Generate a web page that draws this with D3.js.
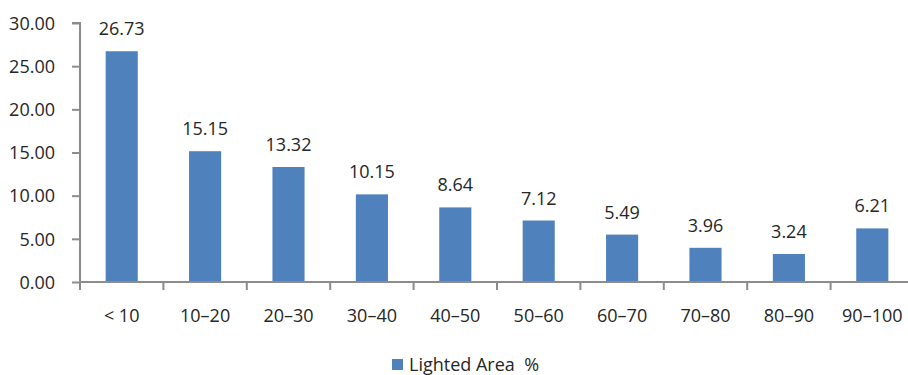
<!DOCTYPE html>
<html>
<head>
<meta charset="utf-8">
<script src="https://cdn.jsdelivr.net/npm/d3@7"></script>
<style>
  html, body { margin: 0; padding: 0; background: #fff; }
  svg { display: block; }
  text { font-family: "Open Sans", "Noto Sans", sans-serif; fill: #262626; }
</style>
</head>
<body>
<svg id="chart" width="908" height="375"></svg>
<script>
const categories = ["< 10", "10–20", "20–30", "30–40", "40–50", "50–60", "60–70", "70–80", "80–90", "90–100"];
const values = [26.73, 15.15, 13.32, 10.15, 8.64, 7.12, 5.49, 3.96, 3.24, 6.21];
const yTicks = [0, 5, 10, 15, 20, 25, 30];
const seriesName = "Lighted Area  %";

const svg = d3.select("#chart");
const plotLeft = 80, plotRight = 914, plotTop = 23, plotBottom = 282;
const barColor = "#4f81bd";
const axisColor = "#8c8c8c";
const fontSize = 18;

const x = d3.scaleBand().domain(categories).range([plotLeft, plotRight]).paddingInner(0.615).paddingOuter(0.3075);
const y = d3.scaleLinear().domain([0, 30]).range([plotBottom, plotTop]);

// bars
svg.append("g").selectAll("rect").data(values).join("rect")
  .attr("x", (d, i) => x(categories[i]))
  .attr("y", d => y(d))
  .attr("width", x.bandwidth())
  .attr("height", d => y(0) - y(d))
  .attr("fill", barColor);

// value labels
svg.append("g").selectAll("text").data(values).join("text")
  .attr("x", (d, i) => x(categories[i]) + x.bandwidth() / 2)
  .attr("y", d => y(d) - 16)
  .attr("text-anchor", "middle")
  .attr("font-size", fontSize)
  .text(d => d.toFixed(2));

// y axis
const yAxis = svg.append("g").attr("transform", `translate(${plotLeft},0)`)
  .call(d3.axisLeft(y).tickValues(yTicks).tickFormat(d => d.toFixed(2)).tickSize(8).tickPadding(17));
yAxis.select(".domain").attr("stroke", axisColor).attr("stroke-width", 2).attr("d", `M-8,${plotTop}H0V${plotBottom}`);
yAxis.selectAll(".tick line").attr("stroke", axisColor).attr("stroke-width", 2);
yAxis.selectAll(".tick text").attr("font-size", fontSize).attr("font-family", "\"Open Sans\", \"Noto Sans\", sans-serif").attr("fill", "#262626").attr("dy", "0.35em");

// x axis: category boundaries carry the tick marks
const step = x.step();
const bounds = d3.range(categories.length + 1).map(i => plotLeft + i * step);
const xg = svg.append("g");
xg.append("line").attr("x1", plotLeft - 1).attr("x2", plotRight).attr("y1", plotBottom).attr("y2", plotBottom)
  .attr("stroke", axisColor).attr("stroke-width", 2);
xg.selectAll("line.t").data(bounds).join("line").attr("class", "t")
  .attr("x1", d => d).attr("x2", d => d).attr("y1", plotBottom).attr("y2", plotBottom + 8)
  .attr("stroke", axisColor).attr("stroke-width", 2);
xg.selectAll("text").data(categories).join("text")
  .attr("x", d => x(d) + x.bandwidth() / 2)
  .attr("y", 322)
  .attr("text-anchor", "middle")
  .attr("font-size", fontSize)
  .text(d => d);

// legend
const lg = svg.append("g");
lg.append("rect").attr("x", 392).attr("y", 359).attr("width", 11).attr("height", 11).attr("fill", barColor);
lg.append("text").attr("x", 409).attr("y", 371).attr("font-size", fontSize)
  .style("white-space", "pre").text(seriesName);
</script>
</body>
</html>
